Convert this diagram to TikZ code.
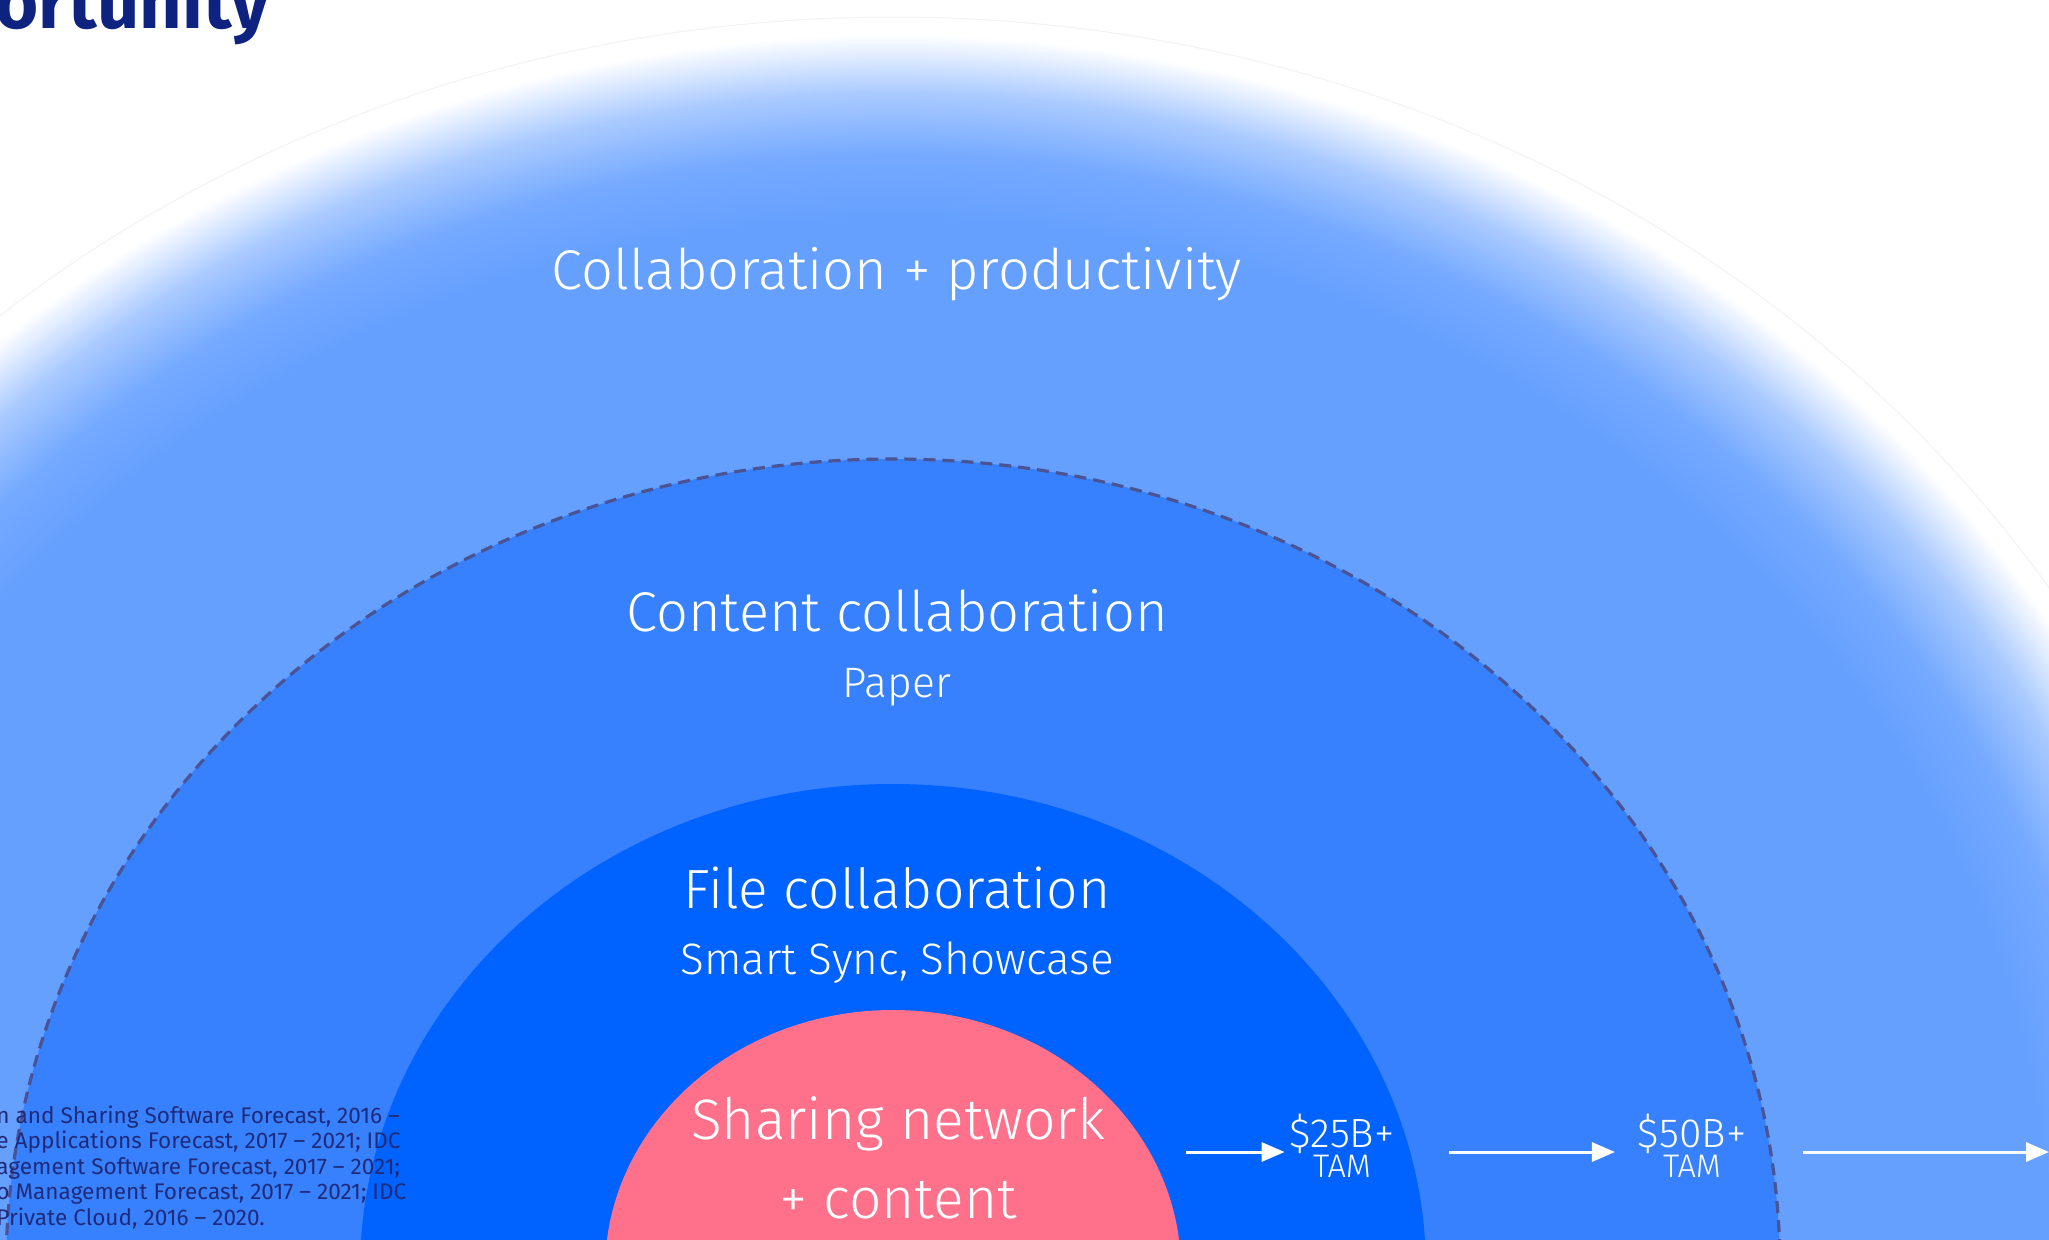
\documentclass[tikz,border=0pt]{standalone}
\usepackage{fontspec}
\IfFontExistsTF{Fira Sans Light}{\setmainfont{Fira Sans Light}}{\setmainfont{Fira Sans}}
\newfontfamily\headfont{Fira Sans}
\newfontfamily\notefont{Fira Sans}
\usetikzlibrary{arrows.meta}

\definecolor{outerblue}{HTML}{66A0FF}
\definecolor{midblue}{HTML}{3781FF}
\definecolor{fileblue}{HTML}{0062FF}
\definecolor{sharepink}{HTML}{FF718B}
\definecolor{dashgrey}{HTML}{4A5394}
\definecolor{titlenavy}{HTML}{0E2380}
\definecolor{notenavy}{HTML}{1F2B7A}

% soft rim of the outer ring (25bp = edge of the path)
\pgfdeclareradialshading{halo}{\pgfpoint{0bp}{0bp}}{color(0bp)=(outerblue); color(21bp)=(outerblue); color(22.25bp)=(outerblue!90!white); color(23.5bp)=(outerblue!55!white); color(24.4bp)=(outerblue!12!white); color(24.65bp)=(white); color(50bp)=(white)}

\begin{document}
\begin{tikzpicture}[x=0.5pt, y=-0.5pt,
    ringtext/.style={text=white, anchor=base, inner sep=0pt},
    tamtext/.style={text=white, anchor=base, inner sep=0pt, align=center, font=\fontsize{20.4}{15}\selectfont},
    flow/.style={draw=white, line width=1.5pt, -{Triangle[length=11.5pt, width=9.5pt]}}]
    \useasboundingbox (0,0) rectangle (2049,1239);
    \clip (0,0) rectangle (2049,1239);
    \fill[white] (0,0) rectangle (2049,1239);

    % rings, all around the same centre below the page
    \coordinate (centre) at (893,1270);
    \shade[shading=halo] (centre) ellipse [x radius=689pt, y radius=626.5pt];
    \draw[black!5, line width=0.5pt] (centre) ellipse [x radius=689pt, y radius=626.5pt];
    \fill[midblue] (centre) ellipse [x radius=443.5pt, y radius=405.5pt];
    \draw[dashgrey, line width=1.6pt, dash pattern=on 6pt off 3.5pt] (centre) ellipse [x radius=443.5pt, y radius=405.5pt];
    \fill[fileblue] (centre) ellipse [x radius=266.5pt, y radius=243pt];
    \fill[sharepink] (centre) ellipse [x radius=144pt, y radius=130pt];

    \node[anchor=base east, inner sep=0pt, text=titlenavy, font=\headfont\fontsize{37}{42}\selectfont\bfseries] (title) at (270,28) {Opportunity};

    \node[ringtext, font=\fontsize{28}{32}\selectfont] (collab) at (897,289) {Collaboration + productivity};
    \node[ringtext, font=\fontsize{28}{32}\selectfont] (content) at (897,631) {Content collaboration};
    \node[ringtext, font=\fontsize{21.3}{24}\selectfont] (paper) at (897,697) {Paper};
    \node[ringtext, font=\fontsize{27.6}{32}\selectfont] (filecol) at (897,908) {File collaboration};
    \node[ringtext, font=\fontsize{22}{25}\selectfont] (sync) at (897,974) {Smart Sync, Showcase};
    \node[ringtext, font=\fontsize{28.5}{32}\selectfont] (share) at (898,1139) {Sharing network};
    \node[ringtext, font=\fontsize{28.5}{32}\selectfont] (sharetwo) at (898,1218) {+ content};

    \node[tamtext] (tam25) at (1342,1177) {\$25B+\\{\fontsize{16.3}{15}\selectfont TAM}};
    \node[tamtext] (tam50) at (1692,1177) {\$50B+\\{\fontsize{16.3}{15}\selectfont TAM}};

    \node[anchor=base west, inner sep=0pt, align=left, text=notenavy, font=\notefont\fontsize{11.3}{12.75}\selectfont] (source) at (-4,1225)
        {n and Sharing Software Forecast, 2016 –\\e Applications Forecast, 2017 – 2021; IDC\\agement Software Forecast, 2017 – 2021;\\o Management Forecast, 2017 – 2021; IDC\\Private Cloud, 2016 – 2020.};

    \coordinate (flowstart) at (1186,1152);
    \coordinate (flowend) at (2049,1152);
    \draw[flow, shorten >=2.25pt] (flowstart) -- (tam25.west |- flowstart);
    \draw[flow, shorten <=27.25pt, shorten >=11.25pt] (tam25.east |- flowstart) -- (tam50.west |- flowstart);
    \draw[flow, shorten <=28.25pt] (tam50.east |- flowstart) -- (flowend);
\end{tikzpicture}
\end{document}
